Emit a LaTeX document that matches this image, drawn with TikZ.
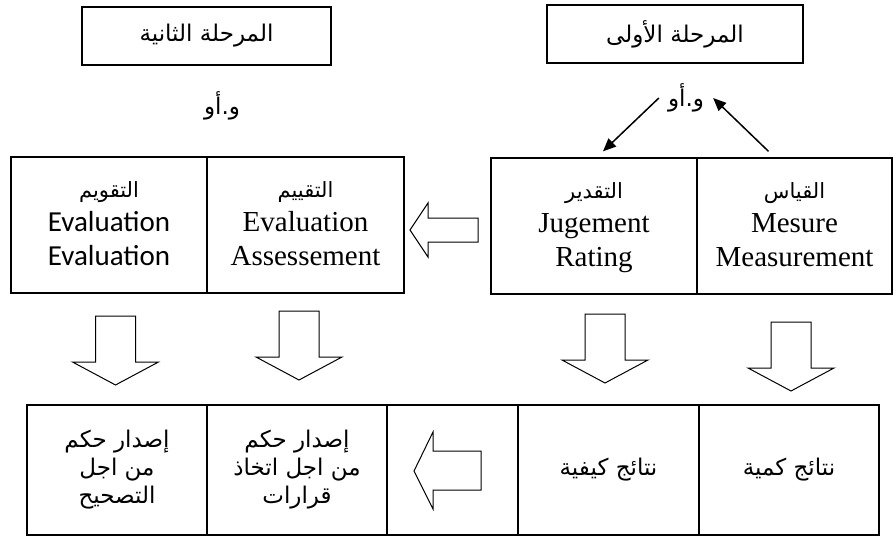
\documentclass[tikz,border=0pt]{standalone}
\usepackage{fontspec}
\setmainfont{Liberation Serif}
\newfontfamily\arabicfont[Script=Arabic]{DejaVu Sans}
\newfontfamily\calfont{Carlito}
\TeXXeTstate=1
\usetikzlibrary{arrows.meta, positioning}

\newcommand{\ar}[1]{{\arabicfont\beginR #1\endR}}
\newcommand{\arsmall}[1]{{\arabicfont\fontsize{21}{34}\selectfont\beginR #1\endR}}

\tikzset{
	box/.style={draw, line width=1.3pt, inner sep=0pt, align=center},
	phasebox/.style={box, minimum height=58pt, font=\fontsize{23}{28}\selectfont},
	termbox/.style={box, minimum height=136pt, font=\fontsize{29}{34}\selectfont},
	resultbox/.style={box, minimum width=180pt, minimum height=130pt, font=\fontsize{23}{28}\selectfont},
	hollow/.style={draw, line width=1pt, fill=white, line join=miter},
	conn/.style={line width=1.5pt, -{Triangle[length=13pt, width=11pt]}},
	dnarrow/.pic={
		\draw[hollow] (-20,0) --++ (40,0) --++ (0,46) --++ (23,0) --++ (-43,23)
		--++ (-43,-23) --++ (23,0) -- cycle;
	}
}

\begin{document}
\begin{tikzpicture}[x=1pt, y=-1pt]
	\useasboundingbox (0,0) rectangle (896,538);
	
	% the two phases
	\node[phasebox, minimum width=249pt] (phase2) at (206.5,36) {\ar{المرحلة الثانية}};
	\node[phasebox, minimum width=256pt] (phase1) at (675,34) {\ar{المرحلة الأولى}};
	
	\node[font=\fontsize{23}{28}\selectfont, inner sep=0pt] (or2) at (222,106) {\ar{و.أو}};
	\node[font=\fontsize{23}{28}\selectfont, inner xsep=9pt, inner ysep=0pt] (or1) at (686,98) {\ar{و.أو}};
	
	% middle row
	\node[termbox, minimum width=196pt] (evaluation) at (109,225)
	{\arsmall{\strut التقويم}\\ {\calfont Evaluation}\\ {\calfont Evaluation}\strut};
	\node[termbox, minimum width=197pt] (assessment) at (305.5,225)
	{\arsmall{\strut التقييم}\\ Evaluation\\ Assessement\strut};
	\node[termbox, minimum width=206pt] (rating) at (594,226)
	{\arsmall{\strut التقدير}\\ Jugement\\ Rating\strut};
	\node[termbox, minimum width=195pt] (measure) at (794.5,226)
	{\arsmall{\strut القياس}\\ Mesure\\ Measurement\strut};
	
	\draw[conn] (or1.west) -- ([xshift=9pt, yshift=6pt]rating.north);
	\draw[conn] ([xshift=-26pt, yshift=6pt]measure.north) -- (or1.east);
	
	\draw[hollow] (410,230) --++ (18,-27) --++ (0,15) --++ (50,0) --++ (0,24)
	--++ (-50,0) --++ (0,15) -- cycle;
	
	% down arrows
	\pic at (115.5,316) {dnarrow};
	\pic at (299,311) {dnarrow};
	\pic at (605,314) {dnarrow};
	\pic at (791,322) {dnarrow};
	
	% bottom row
	\node[resultbox] (correct) at (117,470)
	{\ar{إصدار حكم}\\ \ar{من اجل}\\ \ar{التصحيح}};
	\node[resultbox] (decide) at (297,470)
	{\ar{إصدار حكم}\\ \ar{من اجل اتخاذ}\\ \ar{قرارات}};
	\node[resultbox, minimum width=131pt] (arrowbox) at (452.5,470) {};
	\node[resultbox, minimum width=181pt] (quali) at (608.5,470) {\ar{نتائج كيفية}};
	\node[resultbox] (quanti) at (789,470) {\ar{نتائج كمية}};
	
	\draw[hollow] (414,471) --++ (19,-39) --++ (0,19) --++ (48,0) --++ (0,39)
	--++ (-48,0) --++ (0,19) -- cycle;
\end{tikzpicture}
\end{document}
